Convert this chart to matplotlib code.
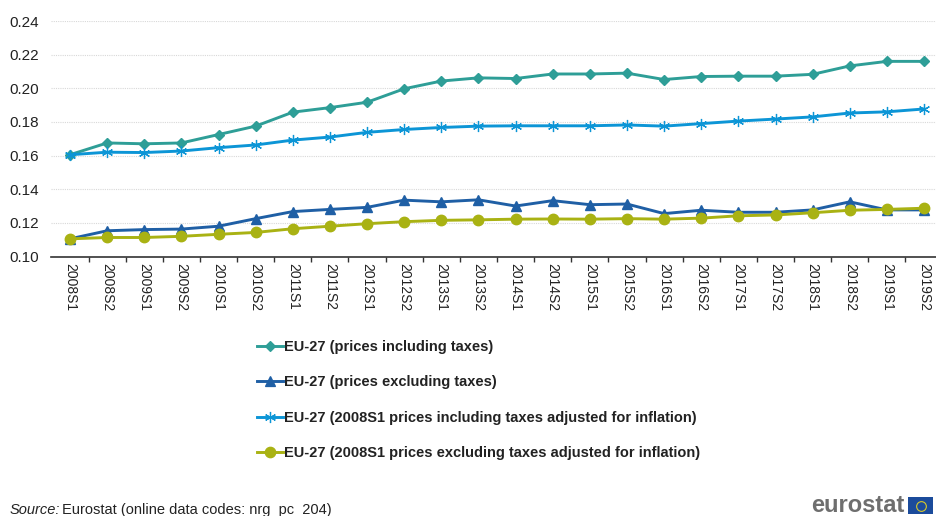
import matplotlib
matplotlib.use('Agg')
import matplotlib.pyplot as plt
from matplotlib.patches import Rectangle

plt.rcParams['font.family'] = ['Liberation Sans', 'DejaVu Sans']

periods = [f'{y}S{s}' for y in range(2008, 2020) for s in (1, 2)]

incl_tax = [0.1605, 0.1675, 0.1670, 0.1675, 0.1725, 0.1775, 0.1858, 0.1885,
            0.1917, 0.1997, 0.2043, 0.2062, 0.2058, 0.2085, 0.2085, 0.2090,
            0.2052, 0.2070, 0.2072, 0.2072, 0.2083, 0.2133, 0.2160, 0.2160]
excl_tax = [0.1105, 0.1153, 0.1160, 0.1163, 0.1180, 0.1225, 0.1267, 0.1280,
            0.1292, 0.1335, 0.1325, 0.1337, 0.1300, 0.1332, 0.1308, 0.1312,
            0.1255, 0.1275, 0.1263, 0.1263, 0.1277, 0.1325, 0.1277, 0.1277]
incl_tax_real = [0.1605, 0.1620, 0.1618, 0.1627, 0.1647, 0.1663, 0.1692, 0.1710,
                 0.1738, 0.1755, 0.1767, 0.1775, 0.1777, 0.1777, 0.1777, 0.1782,
                 0.1775, 0.1790, 0.1805, 0.1817, 0.1830, 0.1853, 0.1860, 0.1877]
excl_tax_real = [0.1105, 0.1113, 0.1113, 0.1120, 0.1132, 0.1143, 0.1165, 0.1180,
                 0.1195, 0.1207, 0.1215, 0.1218, 0.1222, 0.1223, 0.1222, 0.1225,
                 0.1222, 0.1228, 0.1242, 0.1247, 0.1260, 0.1275, 0.1280, 0.1287]
y_ticks = [0.10, 0.12, 0.14, 0.16, 0.18, 0.20, 0.22, 0.24]

W, H = 936, 516
fig = plt.figure(figsize=(W / 100, H / 100), dpi=100)
# axes runs slightly past the right edge, same as the original export
ax = fig.add_axes([51.4 / W, 1 - 256.5 / H, 891.2 / W, 235.5 / H])

x = list(range(len(periods)))
asterisk = (6, 2, 0)
l1, = ax.plot(x, incl_tax, color='#2E9E97', lw=2.1, marker='D', ms=5, clip_on=False)
l2, = ax.plot(x, excl_tax, color='#1F5FA5', lw=2.1, marker='^', ms=7, clip_on=False)
l3, = ax.plot(x, incl_tax_real, color='#0C95D6', lw=2.1, marker=asterisk, ms=8,
              mew=0.9, clip_on=False)
l4, = ax.plot(x, excl_tax_real, color='#A9B213', lw=2.1, marker='o', ms=7.5, clip_on=False)

ax.set_xlim(-0.5, 23.5)
ax.set_ylim(0.10, 0.24)
ax.set_yticks(y_ticks)
ax.set_yticklabels([f'{v:.2f}' for v in y_ticks], fontsize=11, color='#222222')
ax.set_xticks(x)
ax.set_xticklabels(periods, rotation=-90, fontsize=10, color='#222222')
ax.set_xticks([i - 0.5 for i in range(1, 24)], minor=True)
ax.tick_params(axis='x', which='major', length=0, pad=5)
ax.tick_params(axis='x', which='minor', length=3.5, width=1, color='#333333')
ax.tick_params(axis='y', length=0, pad=9)
ax.grid(axis='y', color='#D8D8D8', lw=0.8, ls=(0, (1, 1)))
ax.set_axisbelow(True)
for side in ('top', 'left', 'right'):
    ax.spines[side].set_visible(False)
ax.spines['bottom'].set_color('#333333')
ax.spines['bottom'].set_linewidth(1.2)

labels = ['EU-27 (prices including taxes)',
          'EU-27 (prices excluding taxes)',
          'EU-27 (2008S1 prices including taxes adjusted for inflation)',
          'EU-27 (2008S1 prices excluding taxes adjusted for inflation)']
handles = [plt.Line2D([], [], color=l.get_color(), lw=2.1, marker=l.get_marker(),
                      ms=m, mew=0.9) for l, m in zip([l1, l2, l3, l4], [5, 7, 8, 7.5])]
leg = fig.legend(handles, labels, loc='upper left', bbox_to_anchor=(257 / W, 1 - 340 / H),
                 frameon=False, prop={'size': 10.5, 'weight': 'bold'}, handlelength=1.78,
                 handletextpad=0.08, labelspacing=1.47, borderpad=0, borderaxespad=0)
for t in leg.get_texts():
    t.set_color('#222222')

fig.text(10 / W, 1 - 510 / H, 'Source:', fontsize=10.5, style='italic', color='#222222', va='center')
fig.text(62 / W, 1 - 510 / H, 'Eurostat (online data codes: nrg_pc_204)', fontsize=10.5,
         color='#222222', va='center')

fig.text(905 / W, 1 - 505 / H, 'eurostat', fontsize=17, fontweight='bold', color='#6E6E6E',
         ha='right', va='center')
fig.add_artist(Rectangle((908 / W, 1 - 514 / H), 25 / W, 17 / H, transform=fig.transFigure,
                         facecolor='#1B4B9B', edgecolor='none'))
fig.add_artist(plt.Line2D([920.5 / W], [1 - 505.5 / H], transform=fig.transFigure, marker='o', ms=7,
                          mfc='none', mec='#D8C92A', mew=0.8, ls='none'))

fig.savefig('out.png', dpi=100)
